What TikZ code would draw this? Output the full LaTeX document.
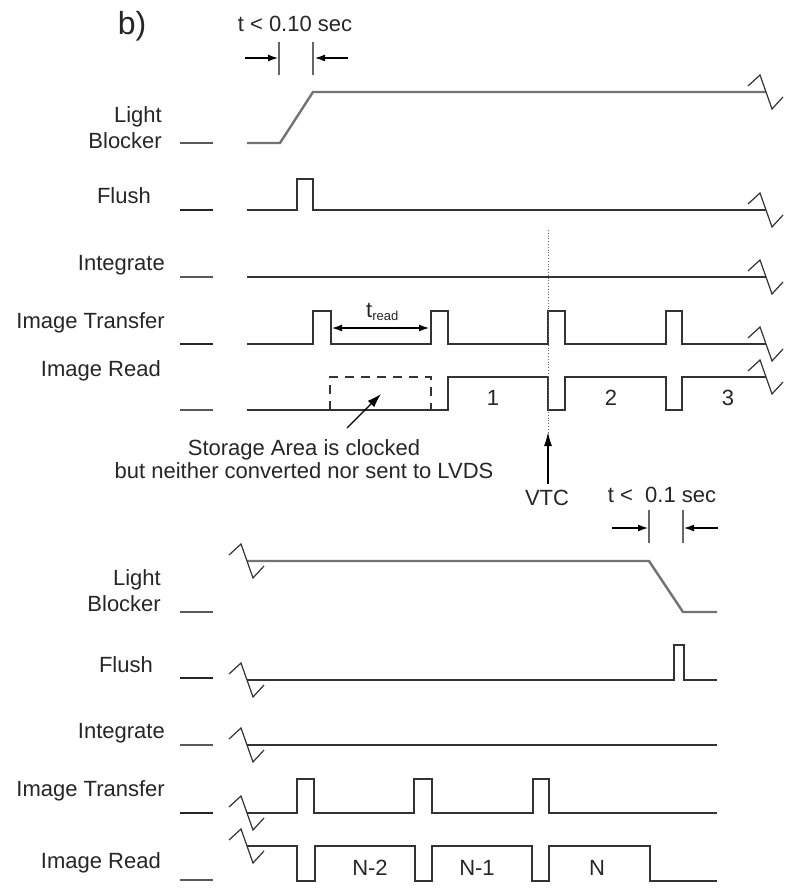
\documentclass[tikz,border=0pt]{standalone}
\usepackage{fontspec}
\setmainfont{Liberation Sans}
\usetikzlibrary{arrows.meta}
\tikzset{
  lbl/.style={font=\fontsize{22}{26}\selectfont, inner sep=0pt, text=black!85},
  sig/.style={line width=1.6pt, draw=black!80, line join=miter},
  lbsig/.style={line width=2.4pt, draw=black!55, line join=miter},
  stub/.style={line width=2.2pt, draw=black!65},
  brkline/.style={line width=1.2pt, draw=black!80},
  tick/.style={line width=2pt, draw=black!60},
  arr/.style={line width=1.3pt, draw=black, -{Latex[length=10pt,width=7pt]}},
  brk/.pic={\draw[brkline] (-18,-6) -- (-6,-17) -- (6,17) -- (17,5);}
}
\begin{document}
\begin{tikzpicture}[x=1pt,y=-1pt]
\useasboundingbox (0,0) rectangle (785,888);
% ---------- titles ----------
\node[lbl, font=\fontsize{32}{36}\selectfont, anchor=base] (title) at (132,35) {b)};
\node[lbl, anchor=base] (t1) at (295,32) {t < 0.10 sec};
\draw[tick] (279,42) -- (279,75);
\draw[tick] (313,42) -- (313,75);
\coordinate (a1s) at (245,58); \coordinate (a1e) at (278,58);
\coordinate (a2s) at (348,58); \coordinate (a2e) at (315,58);
\draw[arr] (a1s) -- (a1e);
\draw[arr] (a2s) -- (a2e);
% ---------- top labels ----------
\node[lbl, anchor=base east] (lb1a) at (162,122) {Light};
\node[lbl, anchor=base east] (lb1b) at (162,148) {Blocker};
\node[lbl, anchor=base east] (fl1) at (151,203) {Flush};
\node[lbl, anchor=base east] (in1) at (165,270) {Integrate};
\node[lbl, anchor=base east] (it1) at (165,328) {Image Transfer};
\node[lbl, anchor=base east] (ir1) at (161,376) {Image Read};
% stubs
\foreach \y in {143,277,410} \draw[stub] (180,\y) -- (213,\y);
\foreach \y in {210,344} \draw[stub, draw=black!85, line width=1.8pt] (180,\y) -- (213,\y);
% ---------- top signals ----------
\draw[lbsig] (247,143) -- (280,143) -- (313,92) -- (766,92);
\draw[sig] (247,210) -- (297,210) -- (297,179) -- (313,179) -- (313,210) -- (766,210);
\draw[sig] (247,277) -- (766,277);
\draw[sig] (247,344) -- (313,344) -- (313,311) -- (331,311) -- (331,344) -- (431,344) -- (431,311) -- (448,311) -- (448,344)
  -- (548,344) -- (548,311) -- (565,311) -- (565,344) -- (666,344) -- (666,311) -- (682,311) -- (682,344) -- (766,344);
\draw[sig] (247,410) -- (448,410) -- (448,377) -- (548,377) -- (548,410) -- (565,410) -- (565,377) -- (666,377) -- (666,410)
  -- (682,410) -- (682,377) -- (766,377);
\foreach \y in {92,210,277,344,377} \pic at (766,\y) {brk};
% dashed storage box
\draw[line width=1.6pt, draw=black!80, dash pattern=on 9pt off 7pt] (330,410) -- (330,377) -- (431,377) -- (431,410);
% t_read
\node[lbl, anchor=base west] (tread) at (366,317) {t\textsubscript{\fontsize{13}{15}\selectfont read}};
\coordinate (trs) at (332,328); \coordinate (tre) at (429,328);
\draw[line width=1.3pt, {Latex[length=10pt,width=7pt]}-{Latex[length=10pt,width=7pt]}] (trs) -- (tre);
% numbers
\node[lbl, anchor=base] (n1) at (493,405) {1};
\node[lbl, anchor=base] (n2) at (611,405) {2};
\node[lbl, anchor=base] (n3) at (728,405) {3};
% VTC
\draw[black!60, line width=0.8pt, dotted] (548,230) -- (548,432);
\node[lbl, anchor=base] (vtc) at (547,505) {VTC};
\coordinate (vtcT) at (548,432);
\draw[line width=1.3pt, -{Latex[length=14pt,width=8pt]}] (548,484) -- (vtcT);
% storage text
\node[lbl, anchor=base] (st1) at (304,455) {Storage Area is clocked};
\node[lbl, anchor=base] (st2) at (304,478) {but neither converted nor sent to LVDS};
\coordinate (stT) at (381,394);
\draw[line width=1.3pt, -{Latex[length=14pt,width=9pt]}] (347,428) -- (stT);
% ---------- bottom ----------
\node[lbl, anchor=base] (t2) at (662,502) {t <\ \ 0.1 sec};
\draw[tick] (649,510) -- (649,543);
\draw[tick] (683,510) -- (683,543);
\coordinate (b1s) at (612,528); \coordinate (b1e) at (648,528);
\coordinate (b2s) at (718,528); \coordinate (b2e) at (684,528);
\draw[arr] (b1s) -- (b1e);
\draw[arr] (b2s) -- (b2e);
\node[lbl, anchor=base east] (lb2a) at (161,585) {Light};
\node[lbl, anchor=base east] (lb2b) at (161,611) {Blocker};
\node[lbl, anchor=base east] (fl2) at (153,672) {Flush};
\node[lbl, anchor=base east] (in2) at (165,738) {Integrate};
\node[lbl, anchor=base east] (it2) at (165,796) {Image Transfer};
\node[lbl, anchor=base east] (ir2) at (161,868) {Image Read};
\foreach \y in {612,745,880} \draw[stub] (180,\y) -- (213,\y);
\foreach \y in {678,813} \draw[stub, draw=black!85, line width=1.8pt] (180,\y) -- (213,\y);
\draw[lbsig] (247,561) -- (649,561) -- (683,612) -- (717,612);
\draw[sig] (247,680) -- (674,680) -- (674,645) -- (684,645) -- (684,680) -- (717,680);
\draw[sig] (247,745) -- (717,745);
\draw[sig] (247,813) -- (297,813) -- (297,779) -- (314,779) -- (314,813) -- (414,813) -- (414,779) -- (432,779) -- (432,813)
  -- (533,813) -- (533,779) -- (549,779) -- (549,813) -- (717,813);
\draw[sig] (247,846) -- (297,846) -- (297,881) -- (315,881) -- (315,846) -- (415,846) -- (415,881) -- (432,881) -- (432,846)
  -- (532,846) -- (532,881) -- (549,881) -- (549,846) -- (650,846) -- (650,881) -- (717,881);
\foreach \y in {561,680,745,813,846} \pic at (247,\y) {brk};
\node[lbl, anchor=base] (nn2) at (370,875) {N-2};
\node[lbl, anchor=base] (nn1) at (477,875) {N-1};
\node[lbl, anchor=base] (nn) at (597,875) {N};
\end{tikzpicture}
\end{document}
